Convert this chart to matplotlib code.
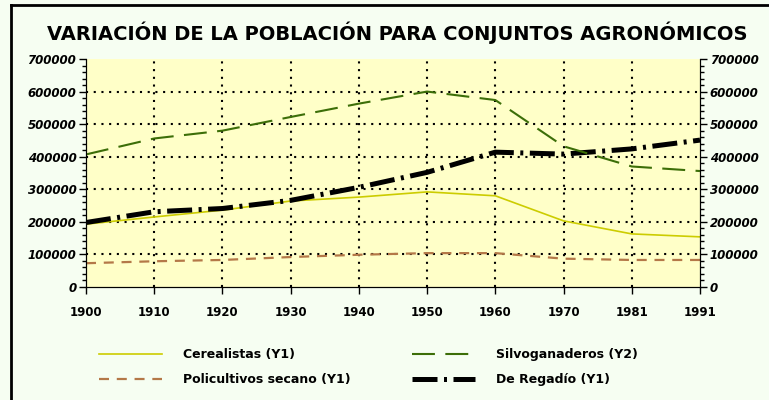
import matplotlib
matplotlib.use("Agg")
import matplotlib.pyplot as plt
from matplotlib.lines import Line2D
import numpy as np

years = ["1900", "1910", "1920", "1930", "1940", "1950", "1960", "1970", "1981", "1991"]
cerealistas = [193000, 215000, 236000, 264000, 276000, 292000, 280000, 203000, 163000, 154000]
policultivos = [73000, 79000, 83000, 92000, 99000, 104000, 104000, 87000, 83000, 83000]
silvoganaderos = [407000, 456000, 480000, 522000, 563000, 600000, 574000, 432000, 370000, 356000]
regadio = [198000, 231000, 241000, 266000, 306000, 352000, 414000, 408000, 424000, 451000]
y_ticks = np.arange(0, 700001, 100000)

fig = plt.figure(figsize=(7.69, 4.0), dpi=100, facecolor="#F6FEF2")
ax = fig.add_axes([86 / 769, 1 - 287 / 400, 614 / 769, 228 / 400])
ax.set_facecolor("#FFFFC8")
ax2 = ax.twinx()

x = np.arange(len(years))
ax.plot(x, cerealistas, color="#CCCC00", lw=1.2, label="Cerealistas (Y1)")
ax.plot(x, policultivos, color="#B47848", lw=1.6, ls=(0, (4.5, 3.5)),
        label="Policultivos secano (Y1)")
ax2.plot(x, silvoganaderos, color="#3C6E08", lw=1.5, ls=(0, (11, 5)),
         label="Silvoganaderos (Y2)")
ax.plot(x, regadio, color="black", lw=3.6, ls=(0, (5, 1.3, 0.6, 1.3)),
        label="De Regadío (Y1)")

for a in (ax, ax2):
    a.set_ylim(0, 700000)
    a.set_xlim(0, len(years) - 1)
    a.set_yticks(y_ticks)
    a.set_yticks(np.arange(0, 700001, 20000), minor=True)
    a.spines["top"].set_visible(False)
    a.tick_params(axis="y", which="major", length=5, width=1, color="black")
    a.tick_params(axis="y", which="minor", length=3, width=1, color="black")

ax.set_yticklabels([str(v) for v in y_ticks], fontsize=8.5, fontweight="bold", fontstyle="italic")
ax2.set_yticklabels([str(v) for v in y_ticks], fontsize=8.5, fontweight="bold", fontstyle="italic")
ax.tick_params(axis="y", pad=2)
ax2.tick_params(axis="y", pad=2)

ax.set_xticks(x)
ax.set_xticklabels(years, fontsize=8.5, fontweight="heavy")
ax.tick_params(axis="x", length=5, width=1, pad=9)

ax.grid(True, color="black", lw=1.5, ls=(0, (1, 2.7)))
ygl = ax.get_ygridlines()
ygl[0].set_visible(False)
ygl[-1].set_visible(False)
xgl = ax.get_xgridlines()
xgl[0].set_visible(False)
xgl[-1].set_visible(False)
ax.set_axisbelow(True)

fig.text(0.517, 1 - 33 / 400, "VARIACIÓN DE LA POBLACIÓN PARA CONJUNTOS AGRONÓMICOS",
         ha="center", va="center", fontsize=14, fontweight="heavy")

# frame lines (top and left only)
fig.add_artist(Line2D([11 / 769, 11 / 769], [0, 1 - 5 / 400], transform=fig.transFigure,
                      color="black", lw=2))
fig.add_artist(Line2D([11 / 769, 1], [1 - 5 / 400, 1 - 5 / 400], transform=fig.transFigure,
                      color="black", lw=2))

h1, l1 = ax.get_legend_handles_labels()
h2, l2 = ax2.get_legend_handles_labels()
handles = dict(zip(l1 + l2, h1 + h2))
leg_kw = dict(frameon=False, handlelength=5.0, handletextpad=1.7, labelspacing=1.0,
              prop={"size": 9, "weight": "bold"}, loc="upper left", borderaxespad=0)
fig.legend([handles["Cerealistas (Y1)"], handles["Policultivos secano (Y1)"]],
           ["Cerealistas (Y1)", "Policultivos secano (Y1)"],
           bbox_to_anchor=(94 / 769, 1 - 343 / 400), **leg_kw)
fig.legend([handles["Silvoganaderos (Y2)"], handles["De Regadío (Y1)"]],
           ["Silvoganaderos (Y2)", "De Regadío (Y1)"],
           bbox_to_anchor=(407 / 769, 1 - 343 / 400), **leg_kw)

fig.savefig("out.png", dpi=100, facecolor=fig.get_facecolor())
